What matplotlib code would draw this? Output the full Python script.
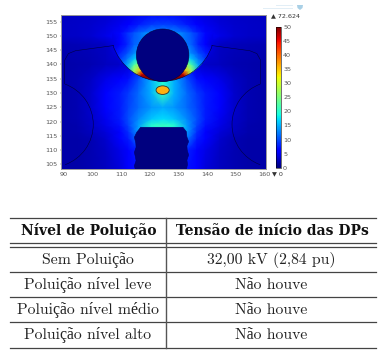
import numpy as np
import matplotlib
matplotlib.use('Agg')
import matplotlib.pyplot as plt
from matplotlib.patches import Circle, Ellipse, Polygon, Arc, Rectangle

W, H = 386, 353

field_x = [88, 94.5, 99.5, 104.5, 109.5, 112.5, 116, 120.5, 124.5, 128.5, 133, 136.5, 139.5, 144.5, 149.5, 154.5, 161]
field_y = [103, 110, 114, 116.5, 118.6, 121, 125, 130, 135, 140, 147, 150, 154, 158]
field = [
    [1.8, 1.8, 2.2, 2.8, 4.0, 5.5, 7.0, 0.0, 0.0, 0.0, 7.0, 5.5, 4.0, 2.8, 2.2, 1.8, 1.8],
    [1.8, 1.8, 2.2, 3.0, 4.5, 6.0, 8.0, 0.0, 0.0, 0.0, 8.0, 6.0, 4.5, 3.0, 2.2, 1.8, 1.8],
    [1.8, 1.8, 2.2, 3.5, 5.5, 7.5, 12., 0.0, 0.0, 0.0, 12., 7.5, 5.5, 3.5, 2.2, 1.8, 1.8],
    [1.8, 2.0, 2.8, 4.0, 6.0, 8.5, 14., 17., 17., 17., 14., 8.5, 6.0, 4.0, 2.8, 2.0, 1.8],
    [1.8, 2.0, 3.0, 4.5, 7.0, 9.5, 14., 20., 21., 20., 14., 9.5, 7.0, 4.5, 3.0, 2.0, 1.8],
    [1.8, 2.2, 3.2, 5.0, 7.5, 10., 13., 16., 17., 16., 13., 10., 7.5, 5.0, 3.2, 2.2, 1.8],
    [1.8, 2.2, 3.5, 5.5, 7.5, 9.5, 11.5, 13.5, 14.5, 13.5, 11.5, 9.5, 7.5, 5.5, 3.5, 2.2, 1.8],
    [1.8, 2.2, 3.5, 5.5, 7.5, 9.0, 11.5, 15., 21., 15., 11.5, 9.0, 7.5, 5.5, 3.5, 2.2, 1.8],
    [1.8, 2.2, 3.0, 4.5, 5.5, 7.0, 10., 15., 19., 15., 10., 7.0, 5.5, 4.5, 3.0, 2.2, 1.8],
    [1.8, 2.0, 2.2, 2.8, 3.2, 4.0, 6.0, 8.0, 8.0, 8.0, 6.0, 4.0, 3.2, 2.8, 2.2, 2.0, 1.8],
    [2.2, 2.4, 2.6, 3.0, 5.0, 9.0, 12., 13., 13., 13., 12., 9.0, 5.0, 3.0, 2.6, 2.4, 2.2],
    [3.0, 3.2, 3.6, 4.5, 6.5, 8.5, 12., 14., 14., 14., 12., 8.5, 6.5, 4.5, 3.6, 3.2, 3.0],
    [3.0, 3.2, 3.5, 4.0, 5.0, 6.0, 7.5, 9.0, 9.5, 9.0, 7.5, 6.0, 5.0, 4.0, 3.5, 3.2, 3.0],
    [2.8, 3.0, 3.2, 3.5, 4.0, 4.5, 5.0, 5.5, 6.0, 5.5, 5.0, 4.5, 4.0, 3.5, 3.2, 3.0, 2.8],
]

gap_x = [107, 109.5, 112, 114.5, 117, 119.5, 122, 124.5, 127, 129.5, 132, 134.5, 137, 139.5, 142]
gap_y = [133.8, 135, 136.5, 138, 140, 142, 144, 147, 151]
gap = [
    [10., 12., 20., 32., 44., 60., 52., 26., 52., 60., 44., 32., 20., 12., 10.],
    [10., 12., 18., 30., 50., 66., 58., 32., 58., 66., 50., 30., 18., 12., 10.],
    [10., 12., 17., 28., 47., 58., 44., 32., 44., 58., 47., 28., 17., 12., 10.],
    [9., 11., 15., 27., 36., 44., 34., 27., 34., 44., 36., 27., 15., 11., 9.],
    [8., 10., 14., 22., 28., 30., 26., 22., 26., 30., 28., 22., 14., 10., 8.],
    [7., 9., 12., 16., 18., 20., 20., 20., 20., 20., 18., 16., 12., 9., 7.],
    [6., 8., 10., 13., 15., 16., 16., 16., 16., 16., 15., 13., 10., 8., 6.],
    [4., 6., 8., 11., 12., 13., 13., 13., 13., 13., 12., 11., 8., 6., 4.],
    [5., 6.5, 8.5, 10.5, 12., 13.5, 14., 14., 14., 13.5, 12., 10.5, 8.5, 6.5, 5.],
]

x_ticks = [90, 100, 110, 120, 130, 140, 150, 160]
y_ticks = [105, 110, 115, 120, 125, 130, 135, 140, 145, 150, 155]
bar_ticks = [0, 5, 10, 15, 20, 25, 30, 35, 40, 45, 50]

fitting_left = [(107.3, 146.6), (94.0, 144.8), (91.5, 143.8), (90.2, 141.5), (90.2, 133.2)]
electrode = [
    (115.0, 103.0), (114.6, 104.5), (115.2, 106.3), (115.0, 107.5), (114.6, 109.2), (115.2, 111.0),
    (115.1, 112.5), (114.6, 114.5), (115.4, 116.2), (116.8, 118.0), (131.6, 118.0), (132.8, 116.5),
    (133.0, 114.6), (133.6, 113.0), (133.0, 111.5), (133.1, 110.0), (133.6, 108.3), (133.0, 106.5),
    (133.2, 105.0), (132.8, 103.0),
]

headers = ['Nível de Poluição', 'Tensão de início das DPs']
levels = ['Sem Poluição', 'Poluição nível leve', 'Poluição nível médio', 'Poluição nível alto']
voltages = ['32,00 kV (2,84 pu)', 'Não houve', 'Não houve', 'Não houve']
row_lines = [218.3, 243.3, 247, 271.7, 297, 322.3, 347.7]
row_text = [231, 260, 285, 310, 335]

plt.rcParams['axes.unicode_minus'] = False
fig = plt.figure(figsize=(W / 100, H / 100), dpi=100)

# field plot
ax = fig.add_axes([60.7 / W, 1 - 169 / H, 205.3 / W, 154.3 / H])
mesh = ax.pcolormesh(field_x, field_y, np.array(field), cmap='jet', vmin=0, vmax=50, shading='gouraud')
arc_clip = Circle((124.5, 152.4), 18.3, transform=ax.transData)
top = ax.pcolormesh(gap_x, gap_y, np.array(gap), cmap='jet', vmin=0, vmax=50, shading='gouraud')
top.set_clip_path(arc_clip)

line = '#000040'
ax.add_patch(Circle((124.5, 143.2), 9.2, fc='#00007f', ec=line, lw=0.4))
ax.add_patch(Polygon(electrode, closed=True, fc='#00007f', ec='#00006a', lw=0.4))
ax.add_patch(Ellipse((124.5, 131), 4.6, 3.0, fc='#ffb010', ec='#303030', lw=0.6))
ax.add_patch(Arc((124.5, 152.4), 36.6, 36.6, theta1=198, theta2=342, color=line, lw=0.4))
ax.add_patch(Arc((85.2, 119), 30, 30, theta1=-70, theta2=70, color=line, lw=0.4))
ax.add_patch(Arc((163.8, 119), 30, 30, theta1=110, theta2=250, color=line, lw=0.4))
px, py = zip(*fitting_left)
ax.plot(px, py, color=line, lw=0.4)
ax.plot([249 - v for v in px], py, color=line, lw=0.4)

ax.set_xlim(88.8, 160.7)
ax.set_ylim(103.4, 157.4)
ax.set_xticks(x_ticks)
ax.set_yticks(y_ticks)
ax.tick_params(labelsize=4.6, length=1, width=0.3, pad=1.5, colors='#555555')
for s in ax.spines.values():
    s.set_color('#999999')
    s.set_linewidth(0.7)

# colorbar
cax = fig.add_axes([275.7 / W, 1 - 167.7 / H, 5.3 / W, 141 / H])
cb = fig.colorbar(mesh, cax=cax, ticks=bar_ticks)
cb.outline.set_linewidth(0.4)
cb.ax.tick_params(labelsize=4.6, length=0, pad=1.5, colors='#555555')

# overlay in pixel coordinates
over = fig.add_axes([0, 0, 1, 1])
over.set_xlim(0, W)
over.set_ylim(H, 0)
over.axis('off')
over.patch.set_alpha(0)

over.text(271, 15.7, '▲ 72.624', fontsize=4.6, color='#333333', va='center')
over.text(272, 173.7, '▼ 0', fontsize=4.6, color='#333333', va='center')
over.add_patch(Rectangle((276, 4.5), 17, 1.4, fc='#e2eef6', ec='none'))
over.add_patch(Rectangle((263, 7.5), 30, 1.4, fc='#e2eef6', ec='none'))
over.add_patch(Polygon([(297, 5), (303, 5), (302.5, 8), (300, 10), (297.5, 8)], closed=True, fc='#a9d0e6', ec='none'))

# table
for y in row_lines:
    over.plot([10, 376], [y, y], color='#444444', lw=0.9)
over.plot([166, 166], [218.3, 347.7], color='#555555', lw=1.0)

rm = ['cmr10', 'Liberation Serif']
over.text(88.5, row_text[0], headers[0], family='DejaVu Serif', fontsize=10, weight='bold', ha='center', va='center', color='#111111')
over.text(272, row_text[0], headers[1], family='DejaVu Serif', fontsize=10, weight='bold', ha='center', va='center', color='#111111')
for y, a, b in zip(row_text[1:], levels, voltages):
    over.text(88, y, a, family=rm, fontsize=11.3, ha='center', va='center', color='#222222')
    over.text(271, y, b, family=rm, fontsize=11.3, ha='center', va='center', color='#222222')

fig.savefig('out.png', dpi=100)
